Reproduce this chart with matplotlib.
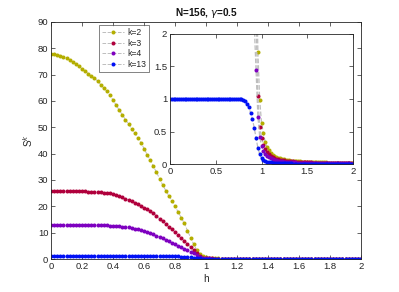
import matplotlib
matplotlib.use("Agg")
import matplotlib.pyplot as plt
import numpy as np

plt.rcParams['font.family'] = ['Liberation Sans', 'DejaVu Sans']

# field values, step 0.02
h = np.arange(101) * 0.02

s_k2 = [77.9, 77.8, 77.6, 77.2, 76.8, 76.2, 75.6, 74.8, 74.0, 73.1,
        72.2, 71.3, 70.4, 69.5, 68.6, 67.6, 66.2, 64.9, 63.6, 62.2,
        60.3, 58.4, 56.5, 54.7, 52.9, 51.2, 49.4, 47.7, 45.9, 44.2,
        41.9, 39.6, 37.5, 35.2, 32.9, 30.5, 28.1, 26.0, 24.0, 22.1,
        20.0, 17.8, 15.7, 13.5, 10.8, 8.1, 5.6, 3.4, 1.72, 0.98,
        0.63, 0.47, 0.34, 0.26, 0.21, 0.17, 0.145, 0.125, 0.11, 0.097,
        0.087, 0.079, 0.072, 0.066, 0.061, 0.057, 0.053, 0.050, 0.047, 0.044,
        0.042, 0.040, 0.038, 0.036, 0.035, 0.033, 0.032, 0.031, 0.030, 0.029,
        0.028, 0.027, 0.027, 0.026, 0.025, 0.025, 0.024, 0.023, 0.023, 0.022,
        0.022, 0.021, 0.021, 0.020, 0.020, 0.019, 0.019, 0.019, 0.018, 0.018,
        0.017]

s_k3 = [26.0, 26.0, 26.0, 26.0, 25.95, 25.9, 25.9, 25.85, 25.8, 25.75,
        25.7, 25.65, 25.6, 25.55, 25.5, 25.4, 25.3, 25.2, 25.0, 24.9,
        24.7, 24.3, 23.9, 23.4, 22.9, 22.4, 21.9, 21.3, 20.8, 20.2,
        19.5, 18.8, 18.1, 17.4, 16.4, 15.3, 14.3, 13.2, 12.2, 11.2,
        10.2, 9.1, 8.0, 6.9, 5.7, 4.5, 3.3, 2.2, 1.04, 0.57,
        0.40, 0.30, 0.23, 0.18, 0.15, 0.125, 0.108, 0.095, 0.085, 0.076,
        0.069, 0.063, 0.058, 0.053, 0.049, 0.046, 0.043, 0.040, 0.038, 0.036,
        0.034, 0.032, 0.031, 0.029, 0.028, 0.027, 0.026, 0.025, 0.024, 0.023,
        0.022, 0.022, 0.021, 0.020, 0.020, 0.019, 0.019, 0.018, 0.018, 0.017,
        0.017, 0.016, 0.016, 0.016, 0.015, 0.015, 0.015, 0.014, 0.014, 0.014,
        0.014]

s_k4 = [13.0, 13.0, 13.0, 13.0, 13.0, 13.0, 12.99, 12.99, 12.98, 12.97,
        12.96, 12.95, 12.93, 12.91, 12.89, 12.86, 12.83, 12.8, 12.76, 12.71,
        12.65, 12.55, 12.45, 12.3, 12.15, 12.0, 11.8, 11.55, 11.3, 11.0,
        10.65, 10.25, 9.85, 9.4, 8.9, 8.35, 7.8, 7.25, 6.7, 6.1,
        5.55, 5.05, 4.5, 3.95, 3.4, 2.8, 2.15, 1.44, 0.73, 0.42,
        0.28, 0.20, 0.155, 0.125, 0.103, 0.087, 0.075, 0.066, 0.058, 0.052,
        0.047, 0.043, 0.039, 0.036, 0.033, 0.031, 0.029, 0.027, 0.025, 0.024,
        0.023, 0.022, 0.021, 0.020, 0.019, 0.018, 0.017, 0.017, 0.016, 0.016,
        0.015, 0.015, 0.014, 0.014, 0.013, 0.013, 0.013, 0.012, 0.012, 0.012,
        0.011, 0.011, 0.011, 0.011, 0.010, 0.010, 0.010, 0.010, 0.010, 0.009,
        0.009]

s_k13 = [1.0, 1.0, 1.0, 1.0, 1.0, 1.0, 1.0, 1.0, 1.0, 1.0,
         1.0, 1.0, 1.0, 1.0, 1.0, 1.0, 1.0, 1.0, 1.0, 1.0,
         1.0, 1.0, 1.0, 1.0, 1.0, 1.0, 1.0, 1.0, 1.0, 1.0,
         1.0, 1.0, 1.0, 1.0, 1.0, 1.0, 0.999, 0.998, 0.997, 0.995,
         0.99, 0.97, 0.93, 0.87, 0.79, 0.69, 0.56, 0.40, 0.25, 0.15,
         0.09, 0.06, 0.045, 0.036, 0.030, 0.026, 0.023, 0.020, 0.018, 0.016,
         0.015, 0.014, 0.013, 0.012, 0.011, 0.010, 0.010, 0.009, 0.009, 0.008,
         0.008, 0.008, 0.007, 0.007, 0.007, 0.007, 0.006, 0.006, 0.006, 0.006,
         0.006, 0.005, 0.005, 0.005, 0.005, 0.005, 0.005, 0.005, 0.004, 0.004,
         0.004, 0.004, 0.004, 0.004, 0.004, 0.004, 0.004, 0.003, 0.003, 0.003,
         0.003]

labels = ['k=2', 'k=3', 'k=4', 'k=13']
colors = ['#b4ae00', '#b0003c', '#7e00c0', '#0010f5']
series = [s_k2, s_k3, s_k4, s_k13]

dark = '#262626'


def style_axes(ax):
    ax.tick_params(direction='in', top=True, right=True, length=3,
                   width=0.5, labelsize=6.8, colors=dark, pad=2)
    for sp in ax.spines.values():
        sp.set_linewidth(0.6)
        sp.set_color(dark)


fig = plt.figure(figsize=(3.99, 2.92), dpi=100)
ax = fig.add_axes([0.128, 0.113, 0.777, 0.812])

for y, lab, col in zip(series, labels, colors):
    ax.plot(h, y, linestyle='--', color='#bdbdbd', lw=0.7,
            marker='o', ms=2.9, mfc=col, mec=col, mew=0, label=lab)

ax.set_xlim(0, 2)
ax.set_ylim(0, 90)
ax.set_xticks(np.arange(0, 2.01, 0.2))
ax.set_xticklabels(['0', '0.2', '0.4', '0.6', '0.8', '1', '1.2', '1.4', '1.6', '1.8', '2'])
ax.set_yticks(np.arange(0, 91, 10))
style_axes(ax)
ax.set_xlabel('h', fontsize=7.2, color=dark, labelpad=2)
ax.set_ylabel('S$^k$', fontsize=7.2, color=dark, labelpad=2)
ax.set_title('N=156, $\\gamma$=0.5', fontsize=7.2, fontweight='bold', color='#111111', pad=4)

leg = ax.legend(loc='upper left', bbox_to_anchor=(0.155, 0.985), fontsize=6.2,
                frameon=True, fancybox=False, handlelength=2.6, handletextpad=0.4,
                borderpad=0.3, labelspacing=0.2, borderaxespad=0)
leg.get_frame().set_edgecolor(dark)
leg.get_frame().set_linewidth(0.5)
for t in leg.get_texts():
    t.set_color(dark)

# inset zoom on the small values
axin = fig.add_axes([0.426, 0.438, 0.459, 0.446])
for y, col in zip(series, colors):
    axin.plot(h, y, linestyle='--', color='#bdbdbd', lw=0.9,
              marker='o', ms=2.9, mfc=col, mec=col, mew=0)
axin.set_xlim(0, 2)
axin.set_ylim(0, 2)
axin.set_xticks([0, 0.5, 1, 1.5, 2])
axin.set_xticklabels(['0', '0.5', '1', '1.5', '2'])
axin.set_yticks([0, 0.5, 1, 1.5, 2])
axin.set_yticklabels(['0', '0.5', '1', '1.5', '2'])
style_axes(axin)

fig.savefig('out.png', dpi=100)
